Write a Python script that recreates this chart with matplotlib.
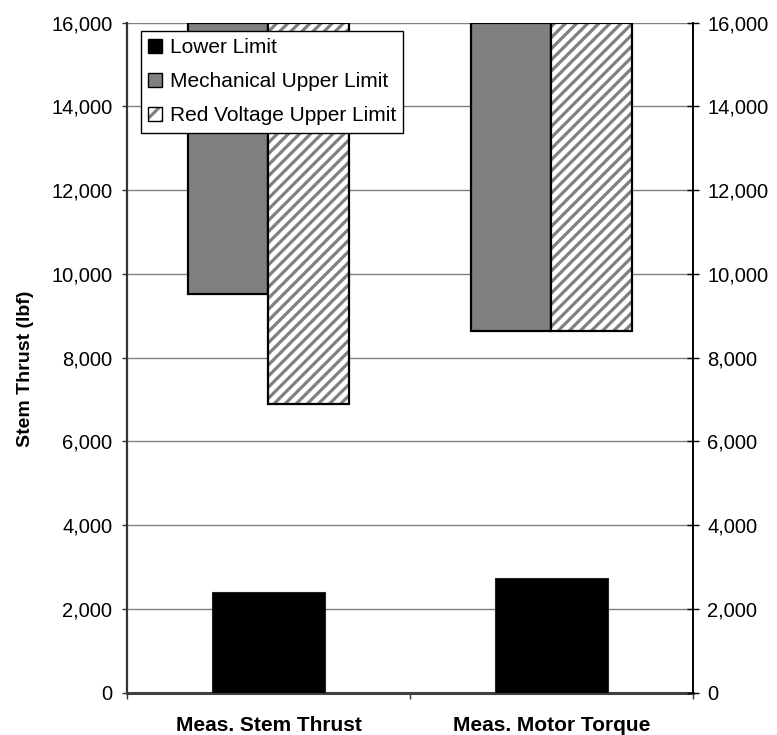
import matplotlib
matplotlib.use("Agg")
import matplotlib.pyplot as plt
from matplotlib.patches import Patch
from matplotlib.legend_handler import HandlerTuple
from matplotlib.ticker import FuncFormatter, FixedLocator
import numpy as np

plt.rcParams['font.family'] = ['Liberation Sans', 'DejaVu Sans']
plt.rcParams['hatch.linewidth'] = 2.3

# ---- data ----
categories = ['Meas. Stem Thrust', 'Meas. Motor Torque']
lower_limit = [2400, 2730]
mech_upper_limit = [9520, 8650]
red_voltage_upper_limit = [6890, 8650]
y_max = 16000
y_ticks = [0, 2000, 4000, 6000, 8000, 10000, 12000, 14000, 16000]
series_names = ['Lower Limit', 'Mechanical Upper Limit', 'Red Voltage Upper Limit']

GREY = '#808080'

fig = plt.figure(figsize=(7.77, 7.35), dpi=100)
ax = fig.add_axes([0.1634, 0.0575, 0.7285, 0.9116])

x = np.arange(len(categories))

# grid
ax.set_ylim(0, y_max)
ax.set_xlim(-0.5, len(categories) - 0.5)
ax.yaxis.set_major_locator(FixedLocator(y_ticks))
ax.grid(axis='y', color=GREY, linewidth=1.0, zorder=0)
ax.set_axisbelow(True)

# lower limit bars
ax.bar(x, lower_limit, width=0.4, color='black', edgecolor='#222222',
       linewidth=0.8, zorder=3)

# mechanical upper limit bars (extend to top of axis)
mech_h = [y_max - v for v in mech_upper_limit]
ax.bar(x - 0.143, mech_h, bottom=mech_upper_limit, width=0.286,
       color=GREY, edgecolor='black', linewidth=1.6, zorder=3)

# red voltage upper limit bars (hatched)
red_h = [y_max - v for v in red_voltage_upper_limit]
ax.bar(x + 0.143, red_h, bottom=red_voltage_upper_limit, width=0.286,
       color='white', edgecolor=GREY, hatch='///', linewidth=0, zorder=3)
ax.bar(x + 0.143, red_h, bottom=red_voltage_upper_limit, width=0.286,
       fill=False, edgecolor='black', linewidth=1.6, zorder=4)

fmt = FuncFormatter(lambda v, p: f'{int(v):,}')
ax.yaxis.set_major_formatter(fmt)
ax.tick_params(axis='y', which='major', direction='out', length=3.5,
               width=1, pad=7, labelsize=14.5, color='#333333')

# x axis: category labels and boundary ticks
ax.set_xticks(x)
ax.set_xticklabels(categories, fontsize=15, fontweight='bold')
ax.tick_params(axis='x', which='major', length=0, pad=17)
ax.set_xticks([-0.5, 0.5, 1.5], minor=True)
ax.tick_params(axis='x', which='minor', direction='out', length=4, width=1,
               color='#333333')

ax.set_ylabel('Stem Thrust (lbf)', fontsize=14, fontweight='bold')
ax.yaxis.set_label_coords(-0.164, 0.483)

for s in ['top', 'right']:
    ax.spines[s].set_visible(False)
ax.spines['left'].set_color('#333333')
ax.spines['left'].set_linewidth(1.6)
ax.spines['bottom'].set_color('#404040')
ax.spines['bottom'].set_linewidth(2.2)

# right axis
ax2 = ax.twinx()
ax2.set_ylim(0, y_max)
ax2.yaxis.set_major_locator(FixedLocator(y_ticks))
ax2.yaxis.set_major_formatter(fmt)
ax2.tick_params(axis='y', direction='inout', length=8.5, width=1, pad=6,
                labelsize=14.5, color='black')
for s in ['top', 'left', 'bottom']:
    ax2.spines[s].set_visible(False)
ax2.spines['right'].set_color('black')
ax2.spines['right'].set_linewidth(1.4)

# legend
h_low = Patch(facecolor='black', edgecolor='black', linewidth=1)
h_mech = Patch(facecolor=GREY, edgecolor='black', linewidth=1)
h_red_fill = Patch(facecolor='white', edgecolor=GREY, hatch='//', linewidth=0)
h_red_edge = Patch(fill=False, edgecolor='black', linewidth=1)
leg = ax2.legend([h_low, h_mech, (h_red_fill, h_red_edge)], series_names,
                 handler_map={tuple: HandlerTuple(ndivide=1, pad=0)},
                 loc='upper left', bbox_to_anchor=(0.0247, 0.9876),
                 borderaxespad=0, fontsize=15, frameon=True, fancybox=False,
                 edgecolor='black', framealpha=1, handlelength=0.67,
                 handleheight=0.67, handletextpad=0.37, labelspacing=0.72,
                 borderpad=0.35)
leg.get_frame().set_linewidth(1.0)

fig.savefig('out.png', dpi=100)
